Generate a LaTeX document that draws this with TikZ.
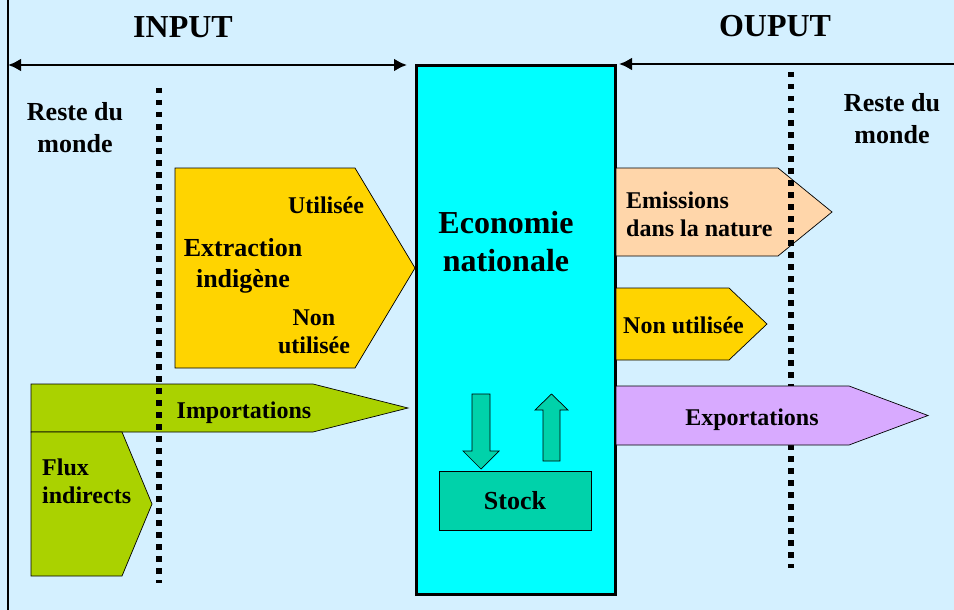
\documentclass[tikz,border=0pt]{standalone}
\usepackage{fontspec}
\setmainfont{Liberation Serif}
\usetikzlibrary{arrows.meta}
\definecolor{fondbleu}{RGB}{212,240,255}
\definecolor{cyanbox}{RGB}{0,255,255}
\definecolor{jaune}{RGB}{255,212,0}
\definecolor{vert}{RGB}{170,210,0}
\definecolor{peche}{RGB}{255,214,170}
\definecolor{lilas}{RGB}{216,170,255}
\definecolor{stockvert}{RGB}{0,210,170}
\tikzset{
	bloc/.style={draw=black, line width=0.7pt},
	txt/.style={inner sep=0pt, anchor=base, font=\bfseries\fontsize{24}{28}\selectfont},
	grandtxt/.style={txt, font=\bfseries\fontsize{26}{31.5}\selectfont},
	titre/.style={txt, font=\bfseries\fontsize{32}{36}\selectfont},
	pointille/.style={line width=5.5pt, dash pattern=on 5.5pt off 6.5pt},
	fleche/.style={line width=2.8pt},
}

\begin{document}
\begin{tikzpicture}[x=1pt,y=-1pt]
			%%%%% START %%%%%
			
			\fill[fondbleu] (0,0) rectangle (954,610);
			\useasboundingbox (0,0) rectangle (954,610);
			\draw[line width=2pt] (8,0) -- (8,610);
			
			\node[bloc, fill=cyanbox, line width=3pt, anchor=north west, inner sep=0pt,
				minimum width=199pt, minimum height=529pt] (eco) at (415,64) {};
			
			\coordinate (bordG) at (8,65);
			\coordinate (bordD) at (954,64);
			\draw[fleche, {Latex[length=13pt,width=13pt]}-{Latex[length=13pt,width=13pt]}] (bordG) -- ([xshift=-8pt,yshift=-1pt]eco.north west);
			\draw[fleche, {Latex[length=13pt,width=13pt]}-] ([xshift=2pt]eco.north east) -- (bordD);
			
			\node[titre] (input) at (183,38) {INPUT};
			\node[titre] (ouput) at (775,37) {OUPUT};
			
			% les lignes multiples sont posées sur la derniere ligne de base
			\node[grandtxt, align=center] (mondeG) at (75,152) {Reste du\\monde};
			\node[grandtxt, align=center] (mondeD) at (892,143) {Reste du\\monde};
			
			% flux entrants
			\filldraw[bloc, fill=jaune] (175,168) -- (355,168) -- (415,268) -- (355,368) -- (175,368) -- cycle;
			\filldraw[bloc, fill=vert] (31,384) -- (313,384) -- (408,408) -- (313,432) -- (31,432) -- cycle;
			\filldraw[bloc, fill=vert] (31,432) -- (122,432) -- (152,504) -- (122,576) -- (31,576) -- cycle;
			
			% flux sortants
			\filldraw[bloc, fill=peche] (616,168) -- (778,168) -- (832,212) -- (778,256) -- (616,256) -- cycle;
			\filldraw[bloc, fill=jaune] (616,288) -- (729,288) -- (767,324) -- (729,360) -- (616,360) -- cycle;
			
			\draw[pointille] (159,88) -- (159,583);
			\draw[pointille] (791,72) -- (791,568);
			
			\filldraw[bloc, fill=lilas] (616,386) -- (849,386) -- (928,415.5) -- (849,445) -- (616,445) -- cycle;
			
			% stock
			\filldraw[bloc, fill=stockvert] (472,394) -- (490,394) -- (490,451) -- (499,451) -- (481,469) -- (463,451) -- (472,451) -- cycle;
			\filldraw[bloc, fill=stockvert] (543,461) -- (560,461) -- (560,410) -- (568,410) -- (551.5,394) -- (535,410) -- (543,410) -- cycle;
			\node[bloc, fill=stockvert, minimum width=152pt, minimum height=59pt, inner sep=0pt,
				font=\bfseries\fontsize{26}{31}\selectfont] (stock) at (515,500.5) {Stock};
			
			\node[grandtxt, font=\bfseries\fontsize{26}{31}\selectfont, align=center] (extraction) at (243,287) {Extraction\\indigène};
			\node[txt] (utilisee) at (326,213) {Utilisée};
			\node[txt, align=center] (nonutilG) at (314,353) {Non\\utilisée};
			\node[txt, font=\bfseries\fontsize{32}{38}\selectfont, align=center] (economie) at (506,271) {Economie\\nationale};
			\node[txt, anchor=base west, align=left] (emissions) at (626,236) {Emissions\\dans la nature};
			\node[txt, anchor=base west] (nonutilD) at (623,333) {Non utilisée};
			\node[txt] (importations) at (244,418) {Importations};
			\node[txt, anchor=base west, align=left] (indirects) at (42,503) {Flux\\indirects};
			\node[txt] (exportations) at (752,425) {Exportations};
			
			%%%%% END %%%%%
\end{tikzpicture}
\end{document}
